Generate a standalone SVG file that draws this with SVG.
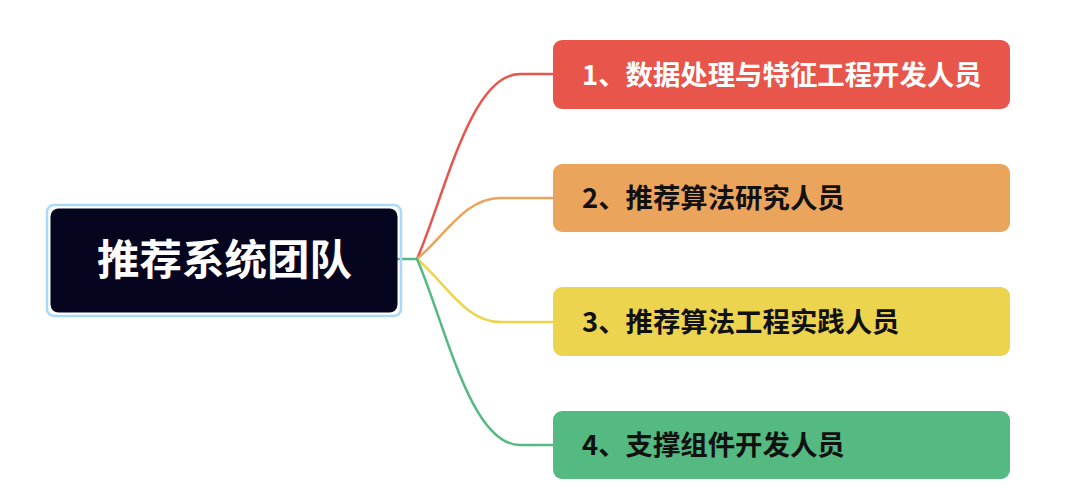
<svg xmlns="http://www.w3.org/2000/svg" width="1080" height="497" viewBox="0 0 1080 497">
<style>
.conn{fill:none;stroke-width:2.5;stroke-linecap:round}
.lbl{font-family:"Noto Sans CJK SC","Noto Sans",sans-serif;font-weight:bold;font-size:27.4px}
.root{font-family:"Noto Sans CJK SC","Noto Sans",sans-serif;font-weight:bold;font-size:42.5px;fill:#ffffff}
</style>
<rect width="1080" height="497" fill="#ffffff"/>
<g id="connectors">
<path class="conn" stroke="#55B982" d="M398,259 L417,259"/>
<path class="conn" stroke="#E8554A" d="M417,259 C445,195 470,74 520,74 L553,74"/>
<path class="conn" stroke="#EBA45C" d="M417,259 C445,236 465,198 500,198 L553,198"/>
<path class="conn" stroke="#EDD44E" d="M417,259 C445,282 465,322 500,322 L553,322"/>
<path class="conn" stroke="#55B982" d="M417,259 C445,323 470,445 520,445 L553,445"/>
</g>
<g id="root">
<rect x="47" y="205" width="354" height="111" rx="7" fill="none" stroke="#A9D9F6" stroke-width="2.5"/>
<rect x="50.5" y="208.5" width="347" height="104" rx="8" fill="#05051F"/>
<text class="root" x="224.5" y="275" text-anchor="middle">推荐系统团队</text>
</g>
<g id="node1">
<rect x="553" y="40" width="457" height="69" rx="9" fill="#E8554A"/>
<text class="lbl" x="582" y="85" fill="#ffffff">1、数据处理与特征工程开发人员</text>
</g>
<g id="node2">
<rect x="553" y="164" width="457" height="68" rx="9" fill="#EBA45C"/>
<text class="lbl" x="582" y="208" fill="#111111">2、推荐算法研究人员</text>
</g>
<g id="node3">
<rect x="553" y="287" width="457" height="69" rx="9" fill="#EDD44E"/>
<text class="lbl" x="582" y="332" fill="#111111">3、推荐算法工程实践人员</text>
</g>
<g id="node4">
<rect x="553" y="411" width="457" height="68" rx="9" fill="#55B982"/>
<text class="lbl" x="582" y="455" fill="#111111">4、支撑组件开发人员</text>
</g>
</svg>
